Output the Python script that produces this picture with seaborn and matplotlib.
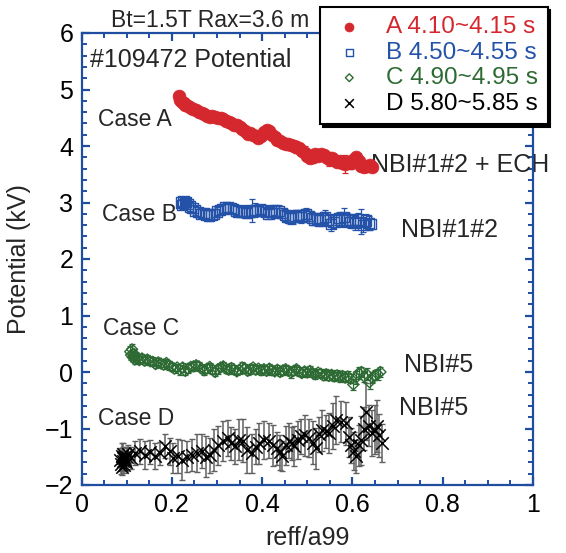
import matplotlib
matplotlib.use("Agg")
import matplotlib.pyplot as plt
import seaborn as sns
import numpy as np
from matplotlib.ticker import MultipleLocator

sns.set_style("ticks")
plt.rcParams['font.family'] = ['Liberation Sans', 'DejaVu Sans']

RED = "#d5282e"
BLUE = "#2352a8"
GREEN = "#2e6a34"
BLACK = "#000000"
SPINE = "#1f4ea0"

labels = ["A 4.10~4.15 s", "B 4.50~4.55 s", "C 4.90~4.95 s", "D 5.80~5.85 s"]

a_x = [0.215,0.218,0.222,0.226,0.230,0.236,0.242,0.248,0.254,0.260,
       0.266,0.272,0.278,0.284,0.290,0.296,0.302,0.308,0.314,0.320,
       0.326,0.332,0.338,0.344,0.350,0.356,0.362,0.368,0.374,0.380,
       0.386,0.392,0.398,0.404,0.410,0.416,0.422,0.428,0.434,0.440,
       0.446,0.452,0.458,0.464,0.470,0.476,0.482,0.488,0.494,0.500,
       0.506,0.512,0.518,0.524,0.530,0.536,0.542,0.548,0.554,0.560,
       0.566,0.572,0.578,0.584,0.590,0.596,0.602,0.608,0.614,0.620,
       0.626,0.632,0.638,0.644]
a_y = [4.88,4.82,4.78,4.76,4.72,4.70,4.68,4.66,4.64,4.60,
       4.58,4.56,4.53,4.52,4.53,4.51,4.49,4.50,4.47,4.45,
       4.43,4.40,4.38,4.37,4.34,4.30,4.26,4.22,4.23,4.20,
       4.17,4.14,4.18,4.24,4.28,4.26,4.20,4.16,4.10,4.08,
       4.05,4.04,4.03,4.02,4.00,3.98,3.96,3.92,3.88,3.83,
       3.78,3.80,3.85,3.82,3.86,3.84,3.80,3.77,3.78,3.75,
       3.72,3.73,3.70,3.68,3.72,3.70,3.76,3.80,3.74,3.64,
       3.62,3.64,3.66,3.62]
a_err = [0.08,0.07,0.06,0.06,0.07,0.06,0.06,0.07,0.06,0.06,
         0.06,0.07,0.06,0.06,0.07,0.06,0.06,0.06,0.07,0.08,
         0.06,0.06,0.07,0.06,0.06,0.07,0.06,0.08,0.06,0.07,
         0.06,0.07,0.06,0.07,0.06,0.06,0.07,0.06,0.06,0.07,
         0.07,0.06,0.08,0.07,0.06,0.10,0.07,0.06,0.12,0.07,
         0.08,0.10,0.07,0.08,0.07,0.06,0.08,0.12,0.07,0.08,
         0.09,0.10,0.08,0.16,0.09,0.11,0.08,0.10,0.09,0.08,
         0.07,0.08,0.08,0.07]

b_x = [0.220,0.223,0.226,0.229,0.232,0.236,0.240,0.246,0.252,0.258,
       0.264,0.270,0.276,0.282,0.288,0.294,0.300,0.306,0.312,0.318,
       0.324,0.330,0.336,0.342,0.348,0.354,0.360,0.366,0.372,0.378,
       0.384,0.390,0.396,0.402,0.408,0.414,0.420,0.426,0.432,0.438,
       0.444,0.450,0.456,0.462,0.468,0.474,0.480,0.486,0.492,0.498,
       0.504,0.510,0.516,0.522,0.528,0.534,0.540,0.546,0.552,0.558,
       0.564,0.570,0.576,0.582,0.588,0.594,0.600,0.606,0.612,0.618,
       0.624,0.630,0.636,0.640]
b_y = [3.00,2.96,3.02,2.98,3.01,2.97,2.93,2.90,2.86,2.83,
       2.80,2.82,2.78,2.77,2.79,2.80,2.84,2.87,2.89,2.91,
       2.92,2.90,2.88,2.86,2.84,2.83,2.85,2.82,2.84,2.86,
       2.87,2.85,2.88,2.86,2.83,2.80,2.84,2.86,2.82,2.85,
       2.81,2.78,2.75,2.72,2.74,2.76,2.78,2.74,2.77,2.80,
       2.76,2.72,2.70,2.71,2.68,2.72,2.74,2.69,2.62,2.66,
       2.70,2.72,2.68,2.74,2.70,2.66,2.69,2.64,2.70,2.66,
       2.60,2.68,2.64,2.62]
b_err = [0.07,0.08,0.07,0.08,0.07,0.08,0.08,0.09,0.08,0.09,
         0.08,0.09,0.08,0.09,0.08,0.09,0.08,0.09,0.08,0.09,
         0.08,0.09,0.08,0.09,0.08,0.09,0.10,0.09,0.08,0.20,
         0.12,0.09,0.08,0.09,0.08,0.10,0.08,0.09,0.08,0.10,
         0.09,0.10,0.09,0.10,0.12,0.10,0.09,0.10,0.11,0.10,
         0.09,0.12,0.10,0.11,0.10,0.11,0.12,0.10,0.12,0.11,
         0.10,0.12,0.11,0.16,0.11,0.12,0.10,0.12,0.11,0.22,
         0.12,0.11,0.12,0.10]

c_x = [0.108,0.110,0.112,0.114,0.116,0.118,0.120,0.124,0.128,0.134,
       0.140,0.146,0.152,0.158,0.164,0.170,0.176,0.182,0.188,0.194,
       0.200,0.206,0.212,0.218,0.224,0.230,0.236,0.242,0.248,0.254,
       0.260,0.266,0.272,0.278,0.284,0.290,0.296,0.302,0.308,0.314,
       0.320,0.326,0.332,0.338,0.344,0.350,0.356,0.362,0.368,0.374,
       0.380,0.386,0.392,0.398,0.404,0.410,0.416,0.422,0.428,0.434,
       0.440,0.446,0.452,0.458,0.464,0.470,0.476,0.482,0.488,0.494,
       0.500,0.506,0.512,0.518,0.524,0.530,0.536,0.542,0.548,0.554,
       0.560,0.566,0.572,0.578,0.584,0.590,0.596,0.602,0.608,0.614,
       0.620,0.626,0.632,0.638,0.644,0.650,0.656,0.662]
c_y = [0.36,0.30,0.40,0.26,0.32,0.22,0.28,0.24,0.21,0.24,
       0.20,0.22,0.19,0.18,0.14,0.17,0.15,0.13,0.16,0.12,
       0.09,0.06,0.08,0.04,0.08,0.02,0.06,0.09,0.10,0.12,
       0.10,0.06,0.03,0.06,0.09,0.04,0.00,0.05,0.08,0.10,
       0.06,0.04,0.07,0.04,0.01,0.04,0.08,0.06,0.02,0.05,
       0.08,0.04,0.06,0.03,0.05,0.02,0.06,0.03,0.01,0.04,
       0.00,0.03,0.05,0.02,-0.01,0.02,0.05,0.01,-0.02,0.01,
       -0.01,0.02,-0.02,-0.04,-0.01,-0.03,-0.06,-0.04,-0.07,-0.05,
       -0.08,-0.06,-0.09,-0.07,-0.10,-0.08,-0.12,-0.22,-0.10,-0.02,
       0.00,-0.08,-0.04,-0.18,-0.10,-0.06,-0.04,0.00]
c_err = [0.10,0.08,0.09,0.08,0.09,0.08,0.07,0.08,0.07,0.08,
         0.07,0.08,0.07,0.08,0.07,0.08,0.07,0.08,0.07,0.08,
         0.07,0.08,0.07,0.09,0.08,0.07,0.08,0.07,0.08,0.07,
         0.08,0.07,0.09,0.08,0.07,0.08,0.07,0.08,0.07,0.08,
         0.07,0.08,0.09,0.08,0.07,0.08,0.09,0.08,0.07,0.08,
         0.07,0.08,0.07,0.08,0.07,0.08,0.09,0.08,0.07,0.08,
         0.07,0.08,0.07,0.08,0.09,0.08,0.07,0.08,0.07,0.08,
         0.07,0.08,0.07,0.08,0.07,0.08,0.09,0.10,0.08,0.09,
         0.08,0.09,0.08,0.09,0.08,0.09,0.08,0.10,0.11,0.10,
         0.09,0.10,0.11,0.12,0.10,0.09,0.10,0.09]

d_x = [0.086,0.088,0.089,0.090,0.091,0.092,0.093,0.094,0.095,0.096,
       0.098,0.100,0.104,0.110,0.119,0.130,0.141,0.152,0.163,0.174,
       0.185,0.195,0.203,0.213,0.222,0.234,0.245,0.256,0.267,0.276,
       0.284,0.293,0.302,0.313,0.324,0.332,0.339,0.348,0.357,0.367,
       0.377,0.386,0.394,0.405,0.416,0.424,0.432,0.440,0.445,0.453,
       0.460,0.466,0.471,0.480,0.487,0.496,0.504,0.512,0.520,0.527,
       0.533,0.541,0.548,0.556,0.564,0.575,0.586,0.592,0.597,0.603,
       0.608,0.614,0.619,0.625,0.630,0.637,0.643,0.649,0.654,0.660,
       0.665]
d_y = [-1.55,-1.62,-1.48,-1.68,-1.52,-1.58,-1.45,-1.64,-1.50,-1.56,
       -1.60,-1.50,-1.46,-1.52,-1.44,-1.40,-1.47,-1.42,-1.49,-1.44,
       -1.31,-1.40,-1.52,-1.48,-1.56,-1.50,-1.47,-1.43,-1.40,-1.50,
       -1.47,-1.38,-1.30,-1.22,-1.17,-1.26,-1.31,-1.20,-1.22,-1.38,
       -1.44,-1.32,-1.26,-1.20,-1.22,-1.30,-1.35,-1.42,-1.49,-1.30,
       -1.22,-1.26,-1.31,-1.20,-1.14,-1.12,-1.17,-1.25,-1.35,-1.10,
       -1.03,-1.05,-1.08,-0.95,-0.85,-0.88,-0.91,-1.15,-1.30,-1.40,
       -1.49,-1.30,-1.21,-1.00,-0.70,-0.95,-1.08,-1.02,-0.96,-1.12,
       -1.26]
d_err = [0.20,0.18,0.22,0.15,0.19,0.17,0.20,0.15,0.18,0.17,
         0.16,0.15,0.17,0.20,0.21,0.22,0.24,0.21,0.23,0.20,
         0.22,0.24,0.27,0.30,0.36,0.27,0.29,0.34,0.30,0.36,
         0.31,0.38,0.34,0.36,0.32,0.29,0.31,0.36,0.38,0.41,
         0.34,0.31,0.36,0.34,0.31,0.36,0.29,0.31,0.27,0.34,
         0.31,0.29,0.36,0.34,0.31,0.36,0.34,0.38,0.36,0.31,
         0.36,0.29,0.36,0.41,0.43,0.36,0.38,0.36,0.31,0.34,
         0.29,0.36,0.43,0.38,0.50,0.36,0.41,0.43,0.46,0.38,
         0.34]

fig = plt.figure(figsize=(5.66, 5.53), dpi=100)
ax = fig.add_axes([81.5/566, 1 - 485/553, 451.5/566, 452/553])

# error bars
ax.errorbar(a_x, a_y, yerr=a_err, fmt="none", ecolor=RED, elinewidth=0.9, capsize=2.5, capthick=0.9, zorder=2)
ax.errorbar(b_x, b_y, yerr=b_err, fmt="none", ecolor=BLUE, elinewidth=0.9, capsize=2.5, capthick=0.9, zorder=2)
ax.errorbar(c_x, c_y, yerr=c_err, fmt="none", ecolor=GREEN, elinewidth=0.9, capsize=2.5, capthick=0.9, zorder=2)
eb = ax.errorbar(d_x, d_y, yerr=d_err, fmt="none", ecolor="#606060", elinewidth=1.1, capsize=2.5, capthick=1.0, zorder=2)
for cap in eb[1]:
    cap.set_color("black")

# markers
sns.scatterplot(x=a_x, y=a_y, ax=ax, marker="o", s=85, color=RED, edgecolor=RED, linewidth=0.5, label=labels[0], zorder=3)
sns.scatterplot(x=b_x, y=b_y, ax=ax, marker="s", s=55, facecolors="none", edgecolor=BLUE, linewidth=1.0, label=labels[1], zorder=3)
sns.scatterplot(x=c_x, y=c_y, ax=ax, marker="D", s=32, facecolors="none", edgecolor=GREEN, linewidth=1.0, label=labels[2], zorder=3)
sns.scatterplot(x=d_x, y=d_y, ax=ax, marker="x", s=80, color=BLACK, linewidth=1.1, label=labels[3], zorder=3)

ax.set_xlim(0, 1)
ax.set_ylim(-2, 6)
ax.xaxis.set_major_locator(MultipleLocator(0.2))
ax.xaxis.set_minor_locator(MultipleLocator(0.05))
ax.yaxis.set_major_locator(MultipleLocator(1))
ax.yaxis.set_minor_locator(MultipleLocator(0.2))
ax.set_xticks([0, 0.2, 0.4, 0.6, 0.8, 1.0])
ax.set_xticklabels(["0", "0.2", "0.4", "0.6", "0.8", "1"])

for sp in ax.spines.values():
    sp.set_color(SPINE)
    sp.set_linewidth(1.6)
    sp.set_visible(True)
ax.tick_params(which="both", direction="in", top=True, right=True, color=SPINE, labelcolor="black", labelsize=18)
ax.tick_params(which="major", length=6, width=1.6, pad=6)
ax.tick_params(which="minor", length=3.5, width=1.4)

ax.set_xlabel("reff/a99", fontsize=18, labelpad=6)
ax.set_ylabel("Potential (kV)", fontsize=18, labelpad=10)

ax.text(0.285, 1.013, "Bt=1.5T Rax=3.6 m", transform=ax.transAxes, ha="center", va="baseline", fontsize=16.5)
ax.text(0.018, 5.52, "#109472 Potential", ha="left", va="center", fontsize=18)
ax.text(0.037, 4.47, "Case A", ha="left", va="center", fontsize=16.5)
ax.text(0.046, 2.79, "Case B", ha="left", va="center", fontsize=16.5)
ax.text(0.048, 0.77, "Case C", ha="left", va="center", fontsize=16.5)
ax.text(0.037, -0.82, "Case D", ha="left", va="center", fontsize=16.5)
ax.text(0.641, 3.67, "NBI#1#2 + ECH", ha="left", va="center", fontsize=18, zorder=2)
ax.text(0.707, 2.51, "NBI#1#2", ha="left", va="center", fontsize=18)
ax.text(0.714, 0.13, "NBI#5", ha="left", va="center", fontsize=18)
ax.text(0.703, -0.64, "NBI#5", ha="left", va="center", fontsize=18)

leg = ax.legend(loc="upper left", bbox_to_anchor=(320/566, 1 - 7/553), bbox_transform=fig.transFigure,
                fontsize=17.5, frameon=True, fancybox=False, shadow={"color": "black", "alpha": 1.0},
                labelcolor=[RED, BLUE, GREEN, BLACK], borderaxespad=0, borderpad=0.38,
                handlelength=1.65, handletextpad=0.7, labelspacing=0.14, markerscale=0.7)
leg.get_frame().set_edgecolor("black")
leg.get_frame().set_linewidth(1.5)
leg.set_zorder(10)

fig.savefig("out.png", dpi=100)
